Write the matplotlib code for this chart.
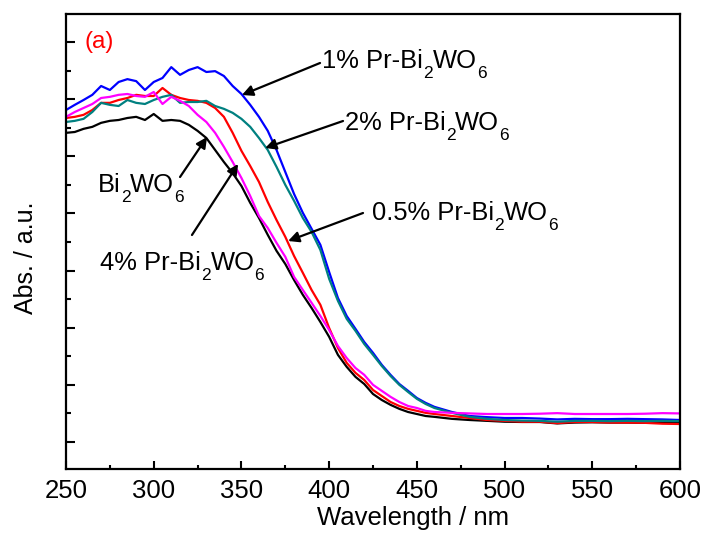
import matplotlib
matplotlib.use("Agg")
import matplotlib.pyplot as plt
from matplotlib.ticker import MultipleLocator
from matplotlib.transforms import IdentityTransform

plt.rcParams['font.family'] = ['Liberation Sans', 'DejaVu Sans']

wavelength = [250, 255, 260, 265, 270, 275, 280, 285, 290, 295,
              300, 305, 310, 315, 320, 325, 330, 335, 340, 345,
              350, 355, 360, 365, 370, 375, 380, 385, 390, 395,
              400, 405, 410, 415, 420, 425, 430, 435, 440, 445,
              450, 455, 460, 470, 480, 490, 500, 510, 520, 530,
              540, 550, 560, 570, 580, 590, 600]

abs_bi2wo6 = [1.082, 1.085, 1.096, 1.103, 1.117, 1.124, 1.127, 1.134, 1.138, 1.127,
              1.148, 1.124, 1.127, 1.124, 1.110, 1.089, 1.064, 1.022, 0.980, 0.941,
              0.896, 0.837, 0.784, 0.725, 0.669, 0.623, 0.567, 0.515, 0.469, 0.420,
              0.368, 0.305, 0.263, 0.228, 0.203, 0.168, 0.147, 0.130, 0.116, 0.105,
              0.098, 0.091, 0.088, 0.081, 0.077, 0.074, 0.071, 0.070, 0.070, 0.065,
              0.068, 0.069, 0.068, 0.068, 0.067, 0.067, 0.066]

abs_pr05 = [1.134, 1.138, 1.145, 1.162, 1.187, 1.187, 1.197, 1.204, 1.215, 1.211,
            1.211, 1.239, 1.215, 1.204, 1.197, 1.194, 1.187, 1.169, 1.138, 1.082,
            1.019, 0.966, 0.910, 0.840, 0.777, 0.718, 0.651, 0.592, 0.532, 0.480,
            0.399, 0.329, 0.277, 0.242, 0.217, 0.182, 0.161, 0.140, 0.126, 0.116,
            0.109, 0.102, 0.098, 0.091, 0.084, 0.077, 0.074, 0.071, 0.071, 0.066,
            0.070, 0.070, 0.068, 0.068, 0.067, 0.064, 0.063]

abs_pr1 = [1.162, 1.180, 1.197, 1.215, 1.246, 1.232, 1.260, 1.270, 1.263, 1.232,
           1.260, 1.274, 1.312, 1.285, 1.302, 1.312, 1.295, 1.298, 1.281, 1.246,
           1.218, 1.180, 1.138, 1.089, 1.022, 0.945, 0.868, 0.802, 0.746, 0.690,
           0.595, 0.504, 0.441, 0.396, 0.350, 0.312, 0.270, 0.235, 0.203, 0.179,
           0.154, 0.137, 0.123, 0.105, 0.091, 0.087, 0.084, 0.084, 0.082, 0.079,
           0.081, 0.080, 0.080, 0.081, 0.080, 0.079, 0.077]

abs_pr2 = [1.120, 1.124, 1.131, 1.155, 1.187, 1.180, 1.176, 1.197, 1.187, 1.183,
           1.197, 1.208, 1.215, 1.187, 1.190, 1.190, 1.194, 1.176, 1.166, 1.152,
           1.131, 1.103, 1.064, 1.022, 0.963, 0.900, 0.844, 0.784, 0.735, 0.672,
           0.571, 0.494, 0.431, 0.389, 0.343, 0.305, 0.266, 0.231, 0.200, 0.175,
           0.151, 0.133, 0.119, 0.102, 0.088, 0.081, 0.077, 0.075, 0.074, 0.071,
           0.074, 0.074, 0.073, 0.074, 0.073, 0.074, 0.073]

abs_pr4 = [1.138, 1.155, 1.169, 1.183, 1.204, 1.208, 1.215, 1.218, 1.211, 1.208,
           1.225, 1.183, 1.208, 1.194, 1.176, 1.145, 1.120, 1.082, 1.033, 0.980,
           0.924, 0.861, 0.791, 0.749, 0.697, 0.648, 0.578, 0.532, 0.487, 0.441,
           0.392, 0.336, 0.294, 0.259, 0.235, 0.200, 0.179, 0.158, 0.140, 0.126,
           0.119, 0.109, 0.105, 0.102, 0.100, 0.098, 0.098, 0.098, 0.099, 0.101,
           0.098, 0.098, 0.098, 0.098, 0.099, 0.101, 0.100]

fig = plt.figure(figsize=(7.06, 5.36), dpi=100)
ax = fig.add_axes([0.0935, 0.125, 0.8697, 0.8489])

ax.plot(wavelength, abs_bi2wo6, color='black', lw=1.6)
ax.plot(wavelength, abs_pr05, color='#FF0000', lw=1.6)
ax.plot(wavelength, abs_pr1, color='#0000FF', lw=1.6)
ax.plot(wavelength, abs_pr2, color='#008080', lw=1.6)
ax.plot(wavelength, abs_pr4, color='#FF00FF', lw=1.6)

ax.set_xlim(250, 600)
ax.set_ylim(-0.0945, 1.498)
ax.xaxis.set_major_locator(MultipleLocator(50))
ax.xaxis.set_minor_locator(MultipleLocator(25))
ax.yaxis.set_major_locator(MultipleLocator(0.2))
ax.yaxis.set_minor_locator(MultipleLocator(0.1))

ax.tick_params(axis='x', which='major', direction='in', length=6, width=1.5,
               labelsize=18.5, pad=7, top=False)
ax.tick_params(axis='x', which='minor', direction='in', length=3, width=1.5, top=False)
ax.tick_params(axis='y', which='major', direction='in', length=6.5, width=1.5,
               labelleft=False, right=False)
ax.tick_params(axis='y', which='minor', direction='in', length=3.5, width=1.5,
               right=False)
for s in ax.spines.values():
    s.set_linewidth(1.6)

ax.set_xlabel('Wavelength / nm', fontsize=18.5, va='top')
ax.xaxis.set_label_coords(0.565, -0.081)
ax.set_ylabel('Abs. / a.u.', fontsize=18)
ax.yaxis.set_label_coords(-0.046, 0.465)

ax.text(260.8, 1.379, '(a)', color='#FF0000', fontsize=17.5, va='baseline', ha='left')

renderer = fig.canvas.get_renderer()
FS = 18.4


def chem_label(x, y, parts, fs=FS):
    """Draw text pieces left to right; pieces flagged True are subscripts."""
    px, py = ax.transData.transform((x, y))
    cur = px
    drop = fs * 0.39 * fig.dpi / 72.0
    for s, sub in parts:
        size = fs * 0.68 if sub else fs
        yy = py - drop if sub else py
        t = fig.text(cur, yy, s, fontsize=size, ha='left', va='baseline',
                     transform=IdentityTransform())
        cur = t.get_window_extent(renderer).x1


chem_label(396, 1.309, [('1% Pr-Bi', False), ('2', True), ('WO', False), ('6', True)])
chem_label(409, 1.092, [('2% Pr-Bi', False), ('2', True), ('WO', False), ('6', True)])
chem_label(424.5, 0.777, [('0.5% Pr-Bi', False), ('2', True), ('WO', False), ('6', True)])
chem_label(268.2, 0.875, [('Bi', False), ('2', True), ('WO', False), ('6', True)])
chem_label(269.4, 0.602, [('4% Pr-Bi', False), ('2', True), ('WO', False), ('6', True)])

arrow_kw = dict(arrowstyle='-|>', color='black', lw=1.6, mutation_scale=16,
                shrinkA=0, shrinkB=0)
ax.annotate('', xy=(350.3, 1.2145), xytext=(394.8, 1.3265), arrowprops=arrow_kw)
ax.annotate('', xy=(363.5, 1.029), xytext=(407.9, 1.1235), arrowprops=arrow_kw)
ax.annotate('', xy=(376.6, 0.7035), xytext=(419.3, 0.8015), arrowprops=arrow_kw)
ax.annotate('', xy=(330.4, 1.0675), xytext=(315.0, 0.9275), arrowprops=arrow_kw)
ax.annotate('', xy=(348.1, 0.973), xytext=(321.8, 0.7245), arrowprops=arrow_kw)

fig.savefig('out.png', dpi=100)
